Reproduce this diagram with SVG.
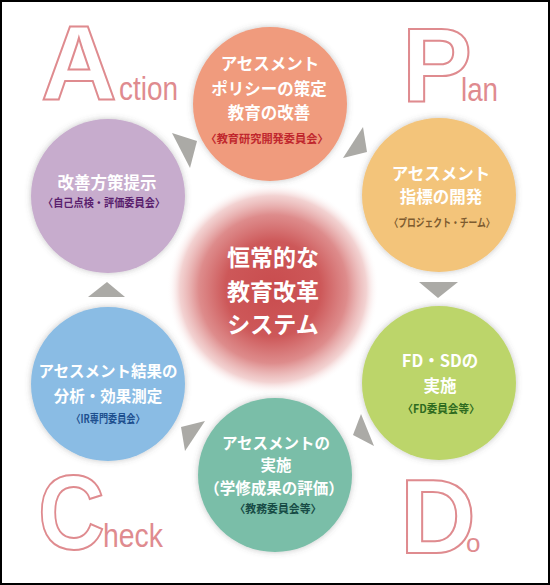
<svg xmlns="http://www.w3.org/2000/svg" width="550" height="585" viewBox="0 0 550 585">
<defs>
<radialGradient id="glow" cx="0.5" cy="0.5" r="0.5">
<stop offset="0" stop-color="#c94c4e"/>
<stop offset="0.45" stop-color="#cd5859"/>
<stop offset="0.7" stop-color="#da7f7f" stop-opacity="0.9"/>
<stop offset="0.88" stop-color="#eab4b3" stop-opacity="0.6"/>
<stop offset="1" stop-color="#ffffff" stop-opacity="0"/>
</radialGradient>
<filter id="sh" x="-20%" y="-20%" width="140%" height="140%">
<feDropShadow dx="0" dy="0" stdDeviation="3" flood-color="#555" flood-opacity="0.35"/>
</filter>
</defs>
<style>
.big{font-family:"Liberation Sans",Arial,sans-serif;font-weight:bold;font-size:105px;fill:#fff;stroke:#df8b8f;stroke-width:2}
.sm{font-family:"Liberation Sans",Arial,sans-serif;font-size:34px;fill:#df8b8f}
.m{font-family:"Noto Sans CJK JP",sans-serif;font-weight:600;font-size:16.5px;fill:#fff;text-anchor:middle;dominant-baseline:central}
.s{font-family:"Noto Sans CJK JP",sans-serif;font-weight:bold;font-size:11px;text-anchor:middle;dominant-baseline:central}
.c{font-family:"Noto Sans CJK JP",sans-serif;font-weight:bold;font-size:23px;fill:#fff;text-anchor:middle;dominant-baseline:central}
.arr{fill:#abaaa6}
</style>
<rect x="0" y="0" width="550" height="585" fill="#fff"/>
<rect x="1" y="1" width="548" height="583" fill="none" stroke="#000" stroke-width="2"/>

<g id="pdca">
<text class="big" x="41" y="100">A</text>
<text class="sm" x="119" y="100" textLength="59" lengthAdjust="spacingAndGlyphs">ction</text>
<text class="big" x="402" y="102">P</text>
<text class="sm" x="461" y="101" textLength="37" lengthAdjust="spacingAndGlyphs">lan</text>
<text class="big" transform="translate(38,549) scale(0.88,1)" x="0" y="0">C</text>
<text class="sm" x="103" y="547" textLength="60" lengthAdjust="spacingAndGlyphs">heck</text>
<text class="big" x="400" y="553">D</text>
<text class="sm" x="466" y="552" style="font-size:26px">o</text>
</g>

<g id="center">
<circle cx="273" cy="289" r="106" fill="url(#glow)"/>
<text class="c" x="273" y="256">恒常的な</text>
<text class="c" x="273" y="290">教育改革</text>
<text class="c" x="273" y="323">システム</text>
</g>

<g id="connectors">
<polygon class="arr" points="172,133 197,141 190,168"/>
<polygon class="arr" points="363,127 367,152 343,158"/>
<polygon class="arr" points="419,282 458,282 438,298"/>
<polygon class="arr" points="353,435 361,414 374,446"/>
<polygon class="arr" points="181,427 185,451 205,421"/>
<polygon class="arr" points="88,297 125,297 107,282"/>
</g>

<g id="policy">
<circle cx="270" cy="104" r="77" fill="#f09b7d" filter="url(#sh)"/>
<text class="m" x="270" y="63">アセスメント</text>
<text class="m" x="269" y="88">ポリシーの策定</text>
<text class="m" x="269" y="112">教育の改善</text>
<text class="s" x="267" y="138" fill="#c0272d" textLength="123" lengthAdjust="spacingAndGlyphs">〈教育研究開発委員会〉</text>
</g>

<g id="indicator">
<circle cx="439" cy="195" r="77" fill="#f3c47a" filter="url(#sh)"/>
<text class="m" x="441" y="173">アセスメント</text>
<text class="m" x="441" y="196">指標の開発</text>
<text class="s" x="442" y="222" fill="#7d5b2f" textLength="105" lengthAdjust="spacingAndGlyphs">〈プロジェクト・チーム〉</text>
</g>

<g id="fdsd">
<circle cx="439" cy="383" r="77" fill="#bcd56a" filter="url(#sh)"/>
<text class="m" x="440" y="360">FD・SDの</text>
<text class="m" x="440" y="385">実施</text>
<text class="s" x="441" y="408" fill="#2e6b1f" textLength="77" lengthAdjust="spacingAndGlyphs">〈FD委員会等〉</text>
</g>

<g id="implement">
<circle cx="275" cy="475" r="77" fill="#7abea8" filter="url(#sh)"/>
<text class="m" x="276" y="442" style="font-size:15.5px">アセスメントの</text>
<text class="m" x="276" y="464" style="font-size:15.5px">実施</text>
<text class="m" x="274" y="487" style="font-size:15.5px">（学修成果の評価）</text>
<text class="s" x="278" y="508" fill="#174b45" textLength="87" lengthAdjust="spacingAndGlyphs">〈教務委員会等〉</text>
</g>

<g id="analysis">
<circle cx="108" cy="384" r="77" fill="#8abce4" filter="url(#sh)"/>
<text class="m" x="108" y="370" style="font-size:15.5px">アセスメント結果の</text>
<text class="m" x="108" y="395" style="font-size:15.5px">分析・効果測定</text>
<text class="s" x="108" y="418" fill="#1d4f8e" textLength="73" lengthAdjust="spacingAndGlyphs">〈IR専門委員会〉</text>
</g>

<g id="improve">
<circle cx="108" cy="196" r="77" fill="#c7accd" filter="url(#sh)"/>
<text class="m" x="107" y="182">改善方策提示</text>
<text class="s" x="104" y="202" fill="#5a1f6e" textLength="122" lengthAdjust="spacingAndGlyphs">〈自己点検・評価委員会〉</text>
</g>
</svg>
